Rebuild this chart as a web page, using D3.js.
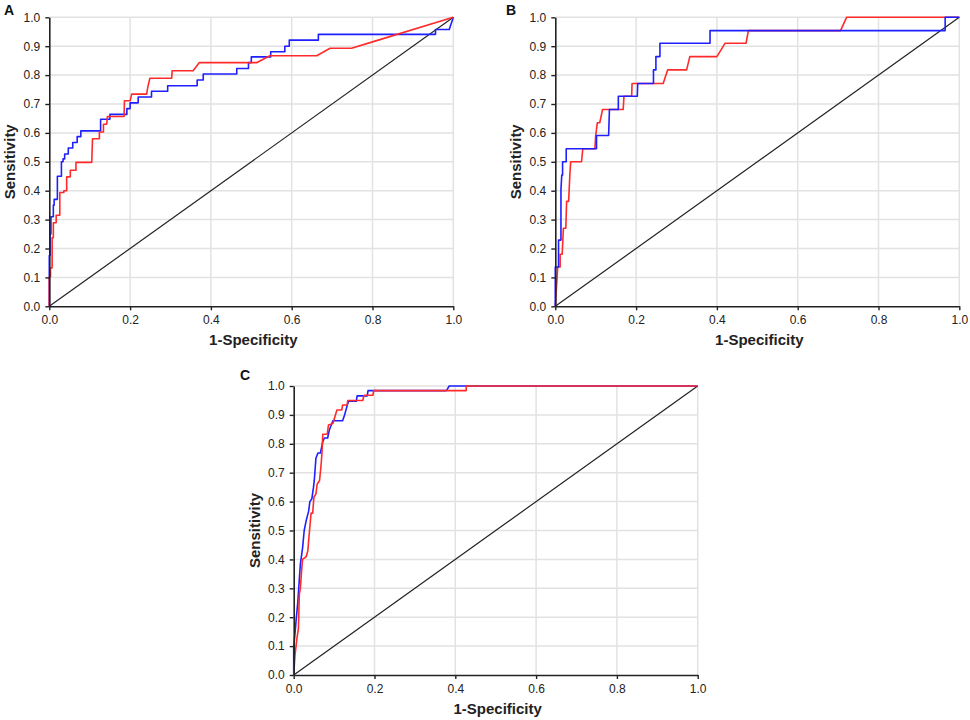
<!DOCTYPE html>
<html>
<head>
<meta charset="utf-8">
<script src="https://cdn.jsdelivr.net/npm/d3@7"></script>
<style>
  body { margin: 0; background: #fff; }
  svg { display: block; font-family: Arial, "Liberation Sans", sans-serif; }
</style>
</head>
<body>
<div id="chart"></div>
<script>
/* ---------- datos: puntos [1-especificidad, sensibilidad] ---------- */
const xTicks = [0, 0.2, 0.4, 0.6, 0.8, 1.0];
const yTicks = [0, 0.1, 0.2, 0.3, 0.4, 0.5, 0.6, 0.7, 0.8, 0.9, 1.0];
const panelLabels = ['A', 'B', 'C'];
const xTitle = '1-Specificity';
const yTitle = 'Sensitivity';
const chance = [[0, 0], [1, 1]];

const aBlue = [[0,0],[0,0.176],[0.002,0.176],[0.002,0.25],[0.004,0.25],[0.004,0.31],[0.01,0.31],[0.01,0.35],
  [0.012,0.35],[0.012,0.37],[0.02,0.37],[0.02,0.45],[0.03,0.45],[0.03,0.5],[0.034,0.5],[0.034,0.51],
  [0.038,0.51],[0.038,0.527],[0.047,0.527],[0.047,0.548],[0.058,0.548],[0.058,0.567],[0.069,0.567],
  [0.069,0.587],[0.078,0.587],[0.078,0.607],[0.127,0.607],[0.127,0.647],[0.15,0.647],[0.15,0.664],
  [0.192,0.664],[0.192,0.684],[0.2,0.684],[0.2,0.704],[0.22,0.704],[0.22,0.724],[0.253,0.724],
  [0.253,0.744],[0.293,0.744],[0.293,0.763],[0.366,0.763],[0.366,0.783],[0.381,0.783],[0.381,0.804],
  [0.464,0.804],[0.464,0.823],[0.493,0.823],[0.493,0.843],[0.5,0.843],[0.5,0.863],[0.548,0.863],
  [0.548,0.881],[0.583,0.881],[0.583,0.9],[0.594,0.9],[0.594,0.921],[0.666,0.921],[0.666,0.941],
  [0.956,0.941],[0.956,0.958],[0.99,0.958],[1,1]];

const aRed = [[0,0],[0,0.102],[0.003,0.102],[0.003,0.133],[0.007,0.133],[0.007,0.237],[0.01,0.237],
  [0.01,0.289],[0.017,0.289],[0.017,0.315],[0.026,0.315],[0.026,0.394],[0.036,0.394],[0.036,0.4],
  [0.043,0.4],[0.043,0.448],[0.052,0.448],[0.052,0.471],[0.066,0.471],[0.066,0.498],[0.105,0.498],
  [0.107,0.58],[0.124,0.58],[0.124,0.603],[0.134,0.603],[0.134,0.63],[0.142,0.63],[0.144,0.657],
  [0.185,0.657],[0.186,0.711],[0.2,0.711],[0.204,0.734],[0.241,0.734],[0.244,0.76],[0.249,0.789],
  [0.303,0.789],[0.304,0.815],[0.356,0.815],[0.371,0.843],[0.513,0.843],[0.546,0.867],[0.662,0.867],
  [0.695,0.893],[0.748,0.893],[0.8,0.915],[1,1]];

const bBlue = [[0,0],[0,0.136],[0.008,0.136],[0.008,0.229],[0.014,0.229],[0.014,0.404],[0.016,0.454],
  [0.018,0.454],[0.018,0.5],[0.027,0.5],[0.027,0.545],[0.102,0.545],[0.102,0.591],[0.132,0.591],
  [0.134,0.681],[0.156,0.681],[0.156,0.727],[0.203,0.727],[0.204,0.771],[0.243,0.771],[0.243,0.818],
  [0.249,0.818],[0.249,0.864],[0.259,0.864],[0.259,0.91],[0.383,0.91],[0.383,0.954],[0.965,0.954],
  [0.965,1],[1,1]];

const bRed = [[0,0],[0.002,0.045],[0.004,0.09],[0.006,0.136],[0.012,0.136],[0.012,0.18],[0.017,0.18],
  [0.02,0.27],[0.026,0.27],[0.028,0.363],[0.033,0.363],[0.036,0.454],[0.038,0.5],[0.065,0.5],
  [0.068,0.545],[0.098,0.545],[0.1,0.591],[0.104,0.635],[0.11,0.635],[0.117,0.681],[0.168,0.681],
  [0.17,0.727],[0.189,0.727],[0.19,0.771],[0.267,0.771],[0.278,0.818],[0.325,0.818],[0.333,0.864],
  [0.4,0.864],[0.42,0.91],[0.472,0.91],[0.478,0.954],[0.706,0.954],[0.721,1],[1,1]];

const cBlue = [[0,0],[0,0.095],[0.003,0.14],[0.006,0.19],[0.01,0.25],[0.0165,0.384],[0.022,0.44],
  [0.026,0.5],[0.031,0.535],[0.037,0.567],[0.04,0.6],[0.045,0.61],[0.049,0.65],[0.051,0.674],
  [0.055,0.75],[0.06,0.768],[0.066,0.768],[0.072,0.807],[0.076,0.82],[0.084,0.82],[0.088,0.847],
  [0.093,0.865],[0.097,0.88],[0.121,0.88],[0.126,0.9],[0.134,0.94],[0.136,0.947],[0.155,0.947],
  [0.157,0.966],[0.182,0.966],[0.184,0.984],[0.378,0.984],[0.385,1],[1,1]];

const cRed = [[0,0],[0.002,0.043],[0.0033,0.07],[0.0058,0.1],[0.0083,0.13],[0.0116,0.16],[0.014,0.28],
  [0.0165,0.3],[0.02,0.37],[0.022,0.4],[0.031,0.41],[0.035,0.43],[0.037,0.465],[0.0405,0.52],
  [0.043,0.56],[0.047,0.56],[0.05,0.615],[0.055,0.627],[0.058,0.66],[0.064,0.673],[0.068,0.73],
  [0.07,0.77],[0.072,0.833],[0.083,0.833],[0.086,0.865],[0.097,0.87],[0.099,0.88],[0.107,0.917],
  [0.119,0.917],[0.121,0.934],[0.132,0.934],[0.134,0.95],[0.171,0.95],[0.174,0.968],[0.196,0.968],
  [0.198,0.984],[0.427,0.984],[0.427,1],[1,1]];

/* ---------- layout ---------- */
const W = 970, H = 720;
const PW = 404, PH = 289;
const BLUE = '#1f1fff', RED = '#ff2a2a';

const panels = [
  { label: panelLabels[0], x: 49.3,  y: 17.3, lx: 4,   ly: 15,  series: [[aBlue, BLUE], [aRed, RED]] },
  { label: panelLabels[1], x: 555.3, y: 17.3, lx: 506, ly: 15,  series: [[bRed, RED], [bBlue, BLUE]] },
  { label: panelLabels[2], x: 293.7, y: 386,  lx: 240, ly: 380, series: [[cBlue, BLUE], [cRed, RED]] }
];

const svg = d3.select('#chart').append('svg')
  .attr('width', W).attr('height', H);

svg.append('rect').attr('width', W).attr('height', H).attr('fill', '#fff');

const x = d3.scaleLinear().domain([0, 1]).range([0, PW]);
const y = d3.scaleLinear().domain([0, 1]).range([PH, 0]);
const line = d3.line().x(d => x(d[0])).y(d => y(d[1]));

panels.forEach(p => {
  const g = svg.append('g').attr('transform', `translate(${p.x},${p.y})`);

  /* rejilla */
  g.append('g').selectAll('line')
    .data(xTicks.filter(t => t > 0))
    .join('line')
      .attr('x1', d => x(d)).attr('x2', d => x(d))
      .attr('y1', 0).attr('y2', PH)
      .attr('stroke', '#e2e2e2').attr('stroke-width', 1.5);
  g.append('g').selectAll('line')
    .data(yTicks.filter(t => t > 0))
    .join('line')
      .attr('x1', 0).attr('x2', PW)
      .attr('y1', d => y(d)).attr('y2', d => y(d))
      .attr('stroke', '#e2e2e2').attr('stroke-width', 1.5);

  /* diagonal */
  g.append('path')
    .attr('d', line(chance))
    .attr('fill', 'none').attr('stroke', '#222').attr('stroke-width', 1.2);

  /* curvas ROC */
  p.series.forEach(([pts, col]) => {
    g.append('path')
      .attr('d', line(pts))
      .attr('fill', 'none')
      .attr('stroke', col)
      .attr('stroke-width', 1.6)
      .attr('stroke-linejoin', 'round');
  });

  /* ejes */
  const ax = g.append('g').attr('transform', `translate(0,${PH})`)
    .call(d3.axisBottom(x).tickValues(xTicks).tickFormat(d3.format('.1f'))
      .tickSize(4).tickSizeOuter(0).tickPadding(5));
  const ay = g.append('g')
    .call(d3.axisLeft(y).tickValues(yTicks).tickFormat(d3.format('.1f'))
      .tickSize(4).tickSizeOuter(0).tickPadding(5));
  [ax, ay].forEach(a => {
    a.select('.domain').attr('stroke', '#222').attr('stroke-width', 1.6);
    a.selectAll('.tick line').attr('stroke', '#222').attr('stroke-width', 1.4);
    a.selectAll('.tick text').attr('fill', '#222')
      .style('font-size', '12px').style('font-family', 'Arial, "Liberation Sans", sans-serif');
  });

  /* títulos */
  g.append('text')
    .attr('x', PW / 2 + 2).attr('y', PH + 39)
    .attr('text-anchor', 'middle')
    .attr('font-size', 15).attr('font-weight', 'bold').attr('fill', '#222')
    .text(xTitle);
  g.append('text')
    .attr('transform', `translate(-34,${PH / 2}) rotate(-90)`)
    .attr('text-anchor', 'middle')
    .attr('font-size', 15).attr('font-weight', 'bold').attr('fill', '#222')
    .text(yTitle);

  svg.append('text')
    .attr('x', p.lx).attr('y', p.ly)
    .attr('font-size', 14).attr('font-weight', 'bold').attr('fill', '#111')
    .text(p.label);
});
</script>
</body>
</html>
